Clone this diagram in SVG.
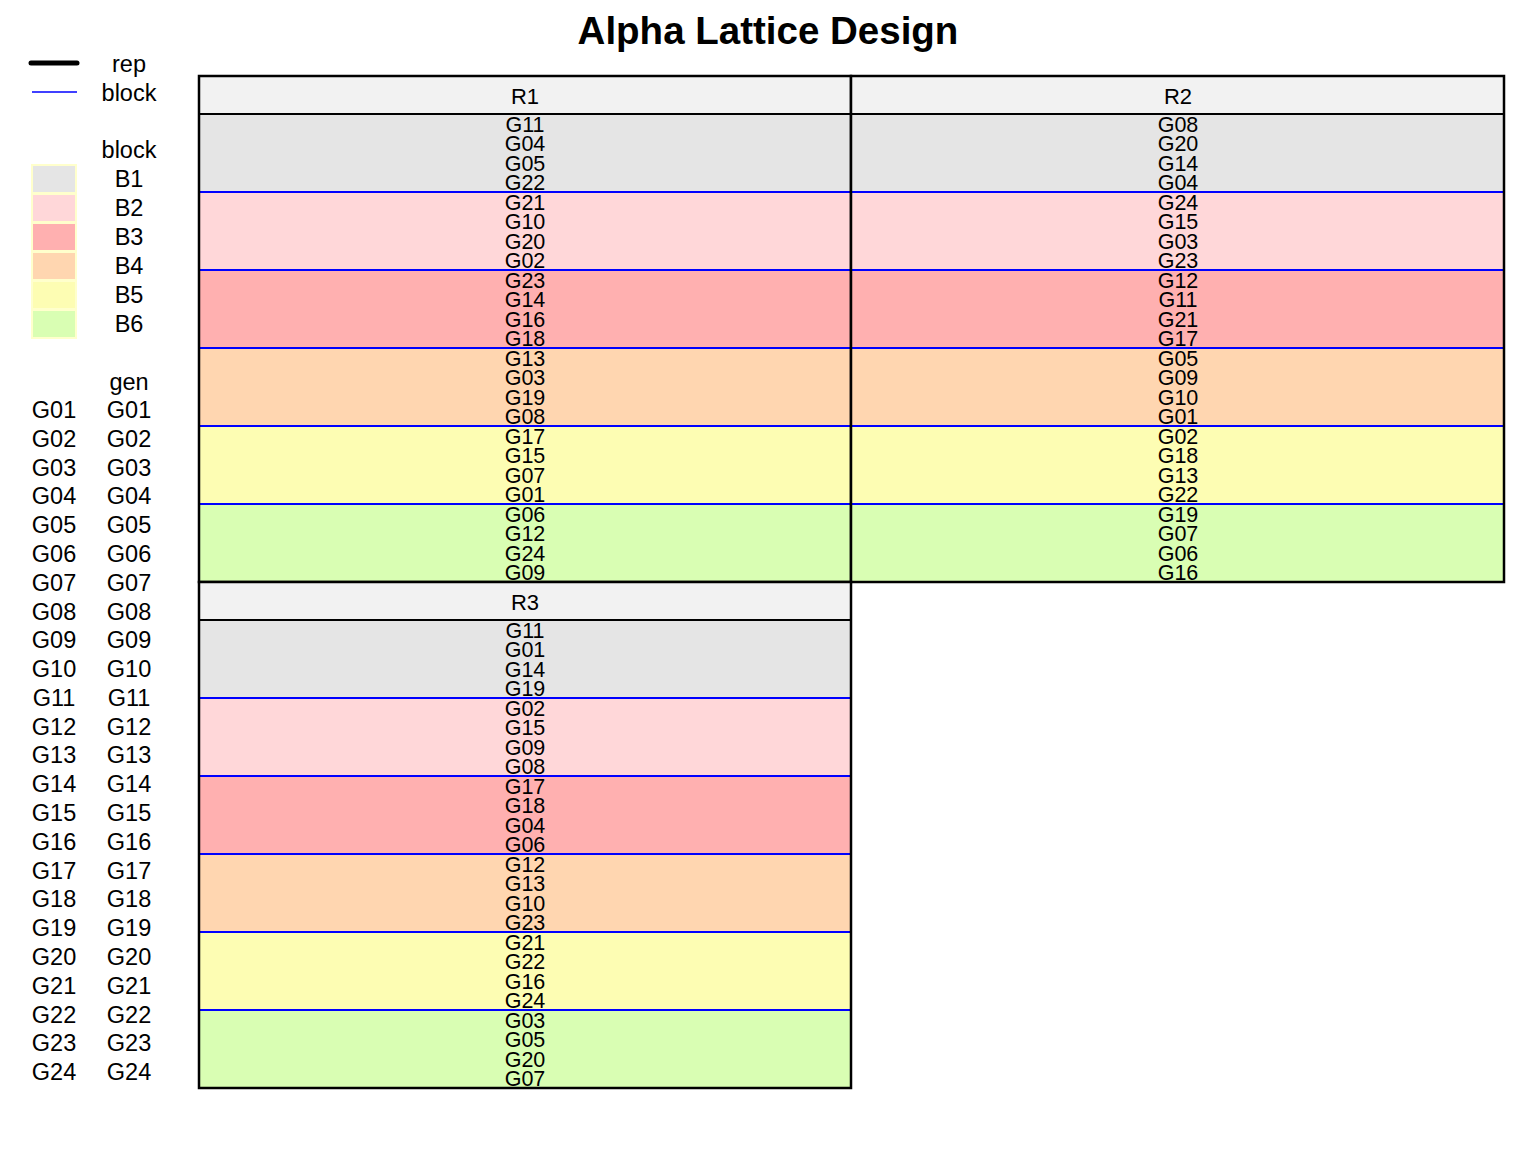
<svg xmlns="http://www.w3.org/2000/svg" width="1536" height="1152" viewBox="0 0 1536 1152">
<style>
text{font-family:"Liberation Sans",Arial,sans-serif;fill:#000;text-anchor:middle}
.title{font-size:38.5px;font-weight:bold}
.lg{font-size:23.5px}
.hd{font-size:22px}
.g{font-size:21.5px}
.b1{fill:#E5E5E5}.b2{fill:#FFD7D9}.b3{fill:#FFB0B0}.b4{fill:#FFD6B0}.b5{fill:#FDFDB3}.b6{fill:#D9FEB3}
.hdr{fill:#F2F2F2;stroke:#000;stroke-width:2}
.bl{stroke:#0000FF;stroke-width:2}
.frame{fill:none;stroke:#000;stroke-width:2.5}
.sw{stroke:#FFFFCC;stroke-width:2}
</style>
<rect width="1536" height="1152" fill="#fff"/>
<text class="title" x="768" y="44">Alpha Lattice Design</text>

<g id="legend">
<line x1="31" y1="63" x2="77" y2="63" stroke="#000" stroke-width="5" stroke-linecap="round"/>
<line x1="32" y1="92" x2="77" y2="92" stroke="#0000FF" stroke-width="1.5"/>
<text class="lg" x="129" y="72">rep</text>
<text class="lg" x="129" y="101">block</text>
<text class="lg" x="129" y="158">block</text>
<rect class="sw b1" x="32" y="165" width="44" height="28"/>
<rect class="sw b2" x="32" y="194" width="44" height="28"/>
<rect class="sw b3" x="32" y="223" width="44" height="28"/>
<rect class="sw b4" x="32" y="252" width="44" height="28"/>
<rect class="sw b5" x="32" y="281" width="44" height="28"/>
<rect class="sw b6" x="32" y="310" width="44" height="28"/>
<text class="lg" x="129" y="187">B1</text>
<text class="lg" x="129" y="216">B2</text>
<text class="lg" x="129" y="245">B3</text>
<text class="lg" x="129" y="274">B4</text>
<text class="lg" x="129" y="303">B5</text>
<text class="lg" x="129" y="332">B6</text>
<text class="lg" x="129" y="390">gen</text>
<g class="lg">
<text x="54" y="418">G01</text><text x="129" y="418">G01</text>
<text x="54" y="447">G02</text><text x="129" y="447">G02</text>
<text x="54" y="476">G03</text><text x="129" y="476">G03</text>
<text x="54" y="504">G04</text><text x="129" y="504">G04</text>
<text x="54" y="533">G05</text><text x="129" y="533">G05</text>
<text x="54" y="562">G06</text><text x="129" y="562">G06</text>
<text x="54" y="591">G07</text><text x="129" y="591">G07</text>
<text x="54" y="620">G08</text><text x="129" y="620">G08</text>
<text x="54" y="648">G09</text><text x="129" y="648">G09</text>
<text x="54" y="677">G10</text><text x="129" y="677">G10</text>
<text x="54" y="706">G11</text><text x="129" y="706">G11</text>
<text x="54" y="735">G12</text><text x="129" y="735">G12</text>
<text x="54" y="763">G13</text><text x="129" y="763">G13</text>
<text x="54" y="792">G14</text><text x="129" y="792">G14</text>
<text x="54" y="821">G15</text><text x="129" y="821">G15</text>
<text x="54" y="850">G16</text><text x="129" y="850">G16</text>
<text x="54" y="879">G17</text><text x="129" y="879">G17</text>
<text x="54" y="907">G18</text><text x="129" y="907">G18</text>
<text x="54" y="936">G19</text><text x="129" y="936">G19</text>
<text x="54" y="965">G20</text><text x="129" y="965">G20</text>
<text x="54" y="994">G21</text><text x="129" y="994">G21</text>
<text x="54" y="1023">G22</text><text x="129" y="1023">G22</text>
<text x="54" y="1051">G23</text><text x="129" y="1051">G23</text>
<text x="54" y="1080">G24</text><text x="129" y="1080">G24</text>
</g>
</g>

<g id="R1">
<rect class="hdr" x="199" y="76" width="652" height="38"/>
<text class="hd" x="525" y="104">R1</text>
<rect class="b1" x="199" y="114" width="652" height="78"/>
<rect class="b2" x="199" y="192" width="652" height="78"/>
<rect class="b3" x="199" y="270" width="652" height="78"/>
<rect class="b4" x="199" y="348" width="652" height="78"/>
<rect class="b5" x="199" y="426" width="652" height="78"/>
<rect class="b6" x="199" y="504" width="652" height="78"/>
<line class="bl" x1="199" y1="192" x2="851" y2="192"/>
<line class="bl" x1="199" y1="270" x2="851" y2="270"/>
<line class="bl" x1="199" y1="348" x2="851" y2="348"/>
<line class="bl" x1="199" y1="426" x2="851" y2="426"/>
<line class="bl" x1="199" y1="504" x2="851" y2="504"/>
<g class="g">
<text x="525" y="132">G11</text><text x="525" y="151">G04</text><text x="525" y="171">G05</text><text x="525" y="190">G22</text>
<text x="525" y="210">G21</text><text x="525" y="229">G10</text><text x="525" y="249">G20</text><text x="525" y="268">G02</text>
<text x="525" y="288">G23</text><text x="525" y="307">G14</text><text x="525" y="327">G16</text><text x="525" y="346">G18</text>
<text x="525" y="366">G13</text><text x="525" y="385">G03</text><text x="525" y="405">G19</text><text x="525" y="424">G08</text>
<text x="525" y="444">G17</text><text x="525" y="463">G15</text><text x="525" y="483">G07</text><text x="525" y="502">G01</text>
<text x="525" y="522">G06</text><text x="525" y="541">G12</text><text x="525" y="561">G24</text><text x="525" y="580">G09</text>
</g>
<rect class="frame" x="199" y="76" width="652" height="506"/>
<line x1="199" y1="114" x2="851" y2="114" stroke="#000" stroke-width="2"/>
</g>

<g id="R2">
<rect class="hdr" x="851" y="76" width="653" height="38"/>
<text class="hd" x="1178" y="104">R2</text>
<rect class="b1" x="851" y="114" width="653" height="78"/>
<rect class="b2" x="851" y="192" width="653" height="78"/>
<rect class="b3" x="851" y="270" width="653" height="78"/>
<rect class="b4" x="851" y="348" width="653" height="78"/>
<rect class="b5" x="851" y="426" width="653" height="78"/>
<rect class="b6" x="851" y="504" width="653" height="78"/>
<line class="bl" x1="851" y1="192" x2="1504" y2="192"/>
<line class="bl" x1="851" y1="270" x2="1504" y2="270"/>
<line class="bl" x1="851" y1="348" x2="1504" y2="348"/>
<line class="bl" x1="851" y1="426" x2="1504" y2="426"/>
<line class="bl" x1="851" y1="504" x2="1504" y2="504"/>
<g class="g">
<text x="1178" y="132">G08</text><text x="1178" y="151">G20</text><text x="1178" y="171">G14</text><text x="1178" y="190">G04</text>
<text x="1178" y="210">G24</text><text x="1178" y="229">G15</text><text x="1178" y="249">G03</text><text x="1178" y="268">G23</text>
<text x="1178" y="288">G12</text><text x="1178" y="307">G11</text><text x="1178" y="327">G21</text><text x="1178" y="346">G17</text>
<text x="1178" y="366">G05</text><text x="1178" y="385">G09</text><text x="1178" y="405">G10</text><text x="1178" y="424">G01</text>
<text x="1178" y="444">G02</text><text x="1178" y="463">G18</text><text x="1178" y="483">G13</text><text x="1178" y="502">G22</text>
<text x="1178" y="522">G19</text><text x="1178" y="541">G07</text><text x="1178" y="561">G06</text><text x="1178" y="580">G16</text>
</g>
<rect class="frame" x="851" y="76" width="653" height="506"/>
<line x1="851" y1="114" x2="1504" y2="114" stroke="#000" stroke-width="2"/>
</g>

<g id="R3">
<rect class="hdr" x="199" y="582" width="652" height="38"/>
<text class="hd" x="525" y="610">R3</text>
<rect class="b1" x="199" y="620" width="652" height="78"/>
<rect class="b2" x="199" y="698" width="652" height="78"/>
<rect class="b3" x="199" y="776" width="652" height="78"/>
<rect class="b4" x="199" y="854" width="652" height="78"/>
<rect class="b5" x="199" y="932" width="652" height="78"/>
<rect class="b6" x="199" y="1010" width="652" height="78"/>
<line class="bl" x1="199" y1="698" x2="851" y2="698"/>
<line class="bl" x1="199" y1="776" x2="851" y2="776"/>
<line class="bl" x1="199" y1="854" x2="851" y2="854"/>
<line class="bl" x1="199" y1="932" x2="851" y2="932"/>
<line class="bl" x1="199" y1="1010" x2="851" y2="1010"/>
<g class="g">
<text x="525" y="638">G11</text><text x="525" y="657">G01</text><text x="525" y="677">G14</text><text x="525" y="696">G19</text>
<text x="525" y="716">G02</text><text x="525" y="735">G15</text><text x="525" y="755">G09</text><text x="525" y="774">G08</text>
<text x="525" y="794">G17</text><text x="525" y="813">G18</text><text x="525" y="833">G04</text><text x="525" y="852">G06</text>
<text x="525" y="872">G12</text><text x="525" y="891">G13</text><text x="525" y="911">G10</text><text x="525" y="930">G23</text>
<text x="525" y="950">G21</text><text x="525" y="969">G22</text><text x="525" y="989">G16</text><text x="525" y="1008">G24</text>
<text x="525" y="1028">G03</text><text x="525" y="1047">G05</text><text x="525" y="1067">G20</text><text x="525" y="1086">G07</text>
</g>
<rect class="frame" x="199" y="582" width="652" height="506"/>
<line x1="199" y1="620" x2="851" y2="620" stroke="#000" stroke-width="2"/>
</g>
</svg>
